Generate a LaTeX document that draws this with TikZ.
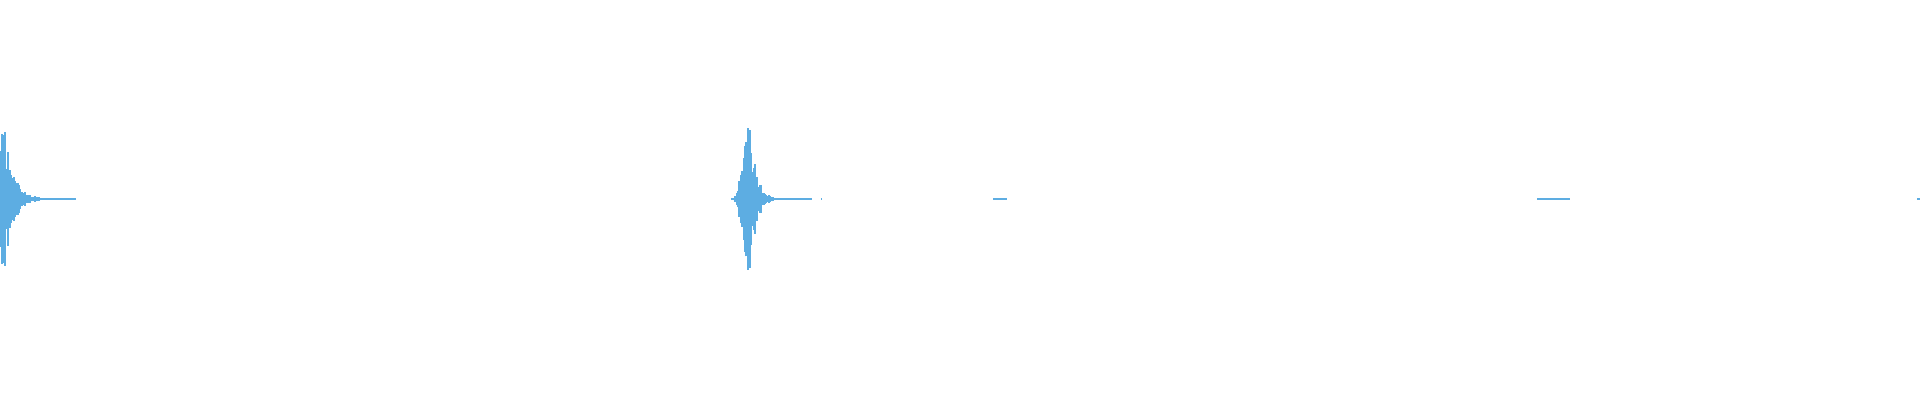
\documentclass[tikz,border=0pt]{standalone}
\definecolor{wave}{RGB}{93,173,226}
\tikzset{
  sample/.style = {draw = wave, line width = 0.014cm},
  flat/.style = {draw = wave, line width = 0.015cm}
}
\newcommand{\jitter}[1]{mod(abs(sin(#1*97.3))*997,1)}
\begin{document}
\begin{tikzpicture}[x = 0.01cm, y = 0.01cm]
\useasboundingbox (0,0) rectangle (1920,400);

% first burst
\foreach \t in {0,...,60}{
  \pgfmathsetmacro{\a}{max(1,min(80,115*exp(-\t/9)*(0.4+0.6*\jitter{\t+3})))}
  \draw [sample] (1+\t,201-\a) -- (1+\t,201+\a);
}
\coordinate (a1) at (45,201);
\coordinate (a2) at (76,201);
\draw [flat] (a1) -- (a2);

% second burst
\foreach \t in {0,...,16}{
  \pgfmathsetmacro{\a}{max(1,min(71,95*(\t/16)^2*(0.5+0.5*\jitter{\t+40})))}
  \draw [sample] (732+\t,201-\a) -- (732+\t,201+\a);
}
\foreach \t in {1,...,50}{
  \pgfmathsetmacro{\a}{max(1,min(71,95*exp(-\t/7)*(0.4+0.6*\jitter{\t+61})))}
  \draw [sample] (748+\t,201-\a) -- (748+\t,201+\a);
}
\coordinate (b1) at (795,201);
\coordinate (b2) at (812,201);
\draw [flat] (b1) -- (b2);
\coordinate (b3) at (821,201);
\coordinate (b4) at (822,201);
\draw [flat] (b3) -- (b4);

% quiet stretches
\coordinate (c1) at (993,201);
\coordinate (c2) at (1007,201);
\draw [flat] (c1) -- (c2);
\coordinate (d1) at (1537,201);
\coordinate (d2) at (1570,201);
\draw [flat] (d1) -- (d2);
\coordinate (e1) at (1917,201);
\coordinate (e2) at (1920,201);
\draw [flat] (e1) -- (e2);

\end{tikzpicture}
\end{document}
